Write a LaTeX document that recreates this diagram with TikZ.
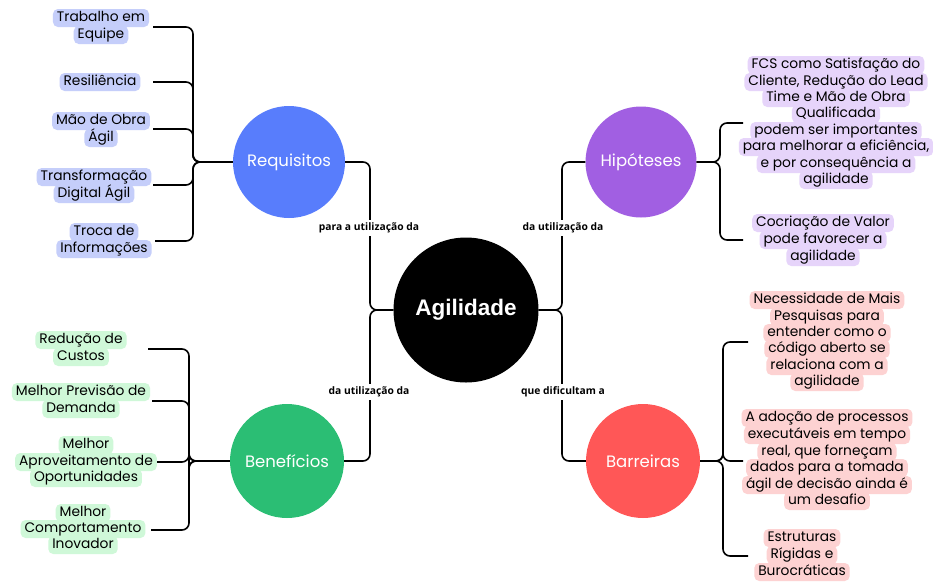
\documentclass[tikz,border=0pt]{standalone}
\usepackage{fontspec}
\setmainfont{Poppins}
\newfontfamily\lblfont{Open Sans}
\newfontfamily\agifont{Liberation Sans}
\definecolor{cB}{RGB}{88,125,252}
\definecolor{lB}{RGB}{197,206,250}
\definecolor{cP}{RGB}{161,95,226}
\definecolor{lP}{RGB}{230,212,250}
\definecolor{cR}{RGB}{255,87,87}
\definecolor{lR}{RGB}{253,210,210}
\definecolor{cG}{RGB}{43,190,116}
\definecolor{lG}{RGB}{207,248,216}
\tikzset{
  conn/.style={draw=black, line width=1.6pt, rounded corners=7pt},
  hub/.style={circle, inner sep=0pt, text=white, font=\fontsize{16.5}{18}\selectfont},
  hl/.style={rounded corners=5pt, inner xsep=4pt, inner ysep=1.5pt, text height=11pt, text depth=4pt, font=\fontsize{13.8}{16}\selectfont, text=black},
  hlB/.style={hl, fill=lB}, hlP/.style={hl, fill=lP}, hlR/.style={hl, fill=lR}, hlG/.style={hl, fill=lG},
  lbl/.style={fill=white, inner xsep=2pt, inner ysep=3pt, font=\lblfont\bfseries\fontsize{10.3}{11}\selectfont}
}
\begin{document}
\begin{tikzpicture}[x=1pt, y=-1pt]
\useasboundingbox[fill=white] (0,0) rectangle (933,584);
% hubs
\node[hub, fill=black, minimum size=145pt, font=\agifont\bfseries\fontsize{22.5}{24}\selectfont] (agi) at (466,310) {Agilidade};
\node[hub, fill=cB, minimum size=112pt] (req) at (289,162) {Requisitos};
\node[hub, fill=cP, minimum size=111pt] (hip) at (641,162) {Hipóteses};
\node[hub, fill=cR, minimum size=114pt] (bar) at (643,461) {Barreiras};
\node[hub, fill=cG, minimum size=114pt] (ben) at (287,461) {Benefícios};
% connector end points of leaves
\coordinate (r1) at (153,27); \coordinate (r2) at (153,82); \coordinate (r3) at (153,129);
\coordinate (r4) at (153,185); \coordinate (r5) at (155,241);
\coordinate (h1) at (743,123); \coordinate (h2) at (743,240);
\coordinate (b1) at (748,342); \coordinate (b2) at (743,461); \coordinate (b3) at (748,556);
\coordinate (g1) at (148,349); \coordinate (g2) at (152,401); \coordinate (g3) at (157,462); \coordinate (g4) at (151,530);
% central connectors
\draw[conn] (req.east) -- (370,162) -- (370,310) -- (agi.west);
\draw[conn] (ben.east) -- (370,461) -- (370,310) -- (agi.west);
\draw[conn] (hip.west) -- (562,162) -- (562,310) -- (agi.east);
\draw[conn] (bar.west) -- (562,461) -- (562,310) -- (agi.east);
\node[lbl] (l1) at (369,228) {para a utilização da};
\node[lbl] (l2) at (563,228) {da utilização da};
\node[lbl] (l3) at (369,392) {da utilização da};
\node[lbl] (l4) at (563,392) {que dificultam a};
% requisitos branch
\foreach \e in {r1,r2,r3,r4,r5} \draw[conn] (req.west) -- (193,162) |- (\e);
% hipoteses branch
\foreach \e in {h1,h2} \draw[conn] (hip.east) -- (720,162) |- (\e);
% barreiras branch
\foreach \e in {b1,b2,b3} \draw[conn] (bar.east) -- (723,461) |- (\e);
% beneficios branch
\foreach \e in {g1,g2,g3,g4} \draw[conn] (ben.west) -- (189,461) |- (\e);
% Requisitos leaves
\node[hlB] (r1a) at (101,18) {Trabalho em};
\node[hlB] (r1b) at (101,35) {Equipe};
\node[hlB] (r2a) at (100,82) {Resiliência};
\node[hlB] (r3a) at (101,121) {Mão de Obra};
\node[hlB] (r3b) at (101,138) {Ágil};
\node[hlB] (r4a) at (94,177) {Transformação};
\node[hlB] (r4b) at (94,194) {Digital Ágil};
\node[hlB] (r5a) at (104,232) {Troca de};
\node[hlB] (r5b) at (104,249) {Informações};
% Hipoteses leaves
\node[hlP] (h1a) at (836,65) {FCS como Satisfação do};
\node[hlP] (h1b) at (836,82) {Cliente, Redução do Lead};
\node[hlP] (h1c) at (836,98) {Time e Mão de Obra};
\node[hlP] (h1d) at (836,114) {Qualificada};
\node[hlP] (h1e) at (836,131) {podem ser importantes};
\node[hlP] (h1f) at (836,147) {para melhorar a eficiência,};
\node[hlP] (h1g) at (836,164) {e por consequência a};
\node[hlP] (h1h) at (836,180) {agilidade};
\node[hlP] (h2a) at (823,223) {Cocriação de Valor};
\node[hlP] (h2b) at (823,240) {pode favorecer a};
\node[hlP] (h2c) at (823,257) {agilidade};
% Barreiras leaves
\node[hlR] (b1a) at (827,300) {Necessidade de Mais};
\node[hlR] (b1b) at (827,317) {Pesquisas para};
\node[hlR] (b1c) at (827,333) {entender como o};
\node[hlR] (b1d) at (827,349) {código aberto se};
\node[hlR] (b1e) at (827,366) {relaciona com a};
\node[hlR] (b1f) at (827,382) {agilidade};
\node[hlR] (b2a) at (827,418) {A adoção de processos};
\node[hlR] (b2b) at (827,435) {executáveis em tempo};
\node[hlR] (b2c) at (827,452) {real, que forneçam};
\node[hlR] (b2d) at (827,468) {dados para a tomada};
\node[hlR] (b2e) at (827,485) {ágil de decisão ainda é};
\node[hlR] (b2f) at (827,501) {um desafio};
\node[hlR] (b3a) at (802,538) {Estruturas};
\node[hlR] (b3b) at (802,555) {Rígidas e};
\node[hlR] (b3c) at (802,572) {Burocráticas};
% Beneficios leaves
\node[hlG] (g1a) at (81,340) {Redução de};
\node[hlG] (g1b) at (81,357) {Custos};
\node[hlG] (g2a) at (81,392) {Melhor Previsão de};
\node[hlG] (g2b) at (81,409) {Demanda};
\node[hlG] (g3a) at (86,445) {Melhor};
\node[hlG] (g3b) at (86,462) {Aproveitamento de};
\node[hlG] (g3c) at (86,478) {Oportunidades};
\node[hlG] (g4a) at (83,513) {Melhor};
\node[hlG] (g4b) at (83,529) {Comportamento};
\node[hlG] (g4c) at (83,545) {Inovador};
\end{tikzpicture}
\end{document}
